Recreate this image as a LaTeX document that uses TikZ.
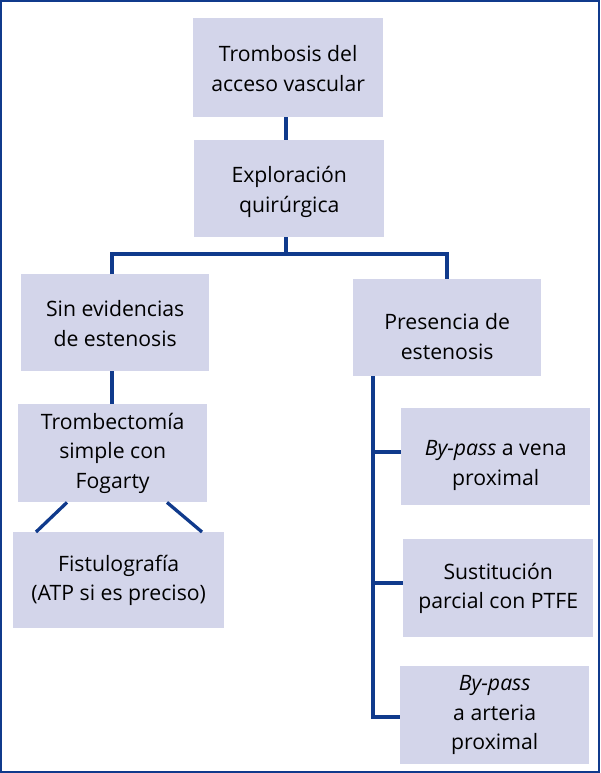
\documentclass[tikz,border=0pt]{standalone}
\usepackage{fontspec}
\setmainfont{Open Sans}
\definecolor{boxfill}{RGB}{211,213,234}
\definecolor{linecol}{RGB}{16,58,140}
\begin{document}
\begin{tikzpicture}[x=1pt,y=-1pt,
  box/.style={fill=boxfill, draw=none, inner sep=0pt, anchor=north west},
  txt/.style={align=center, font=\fontsize{21.2}{29.5}\selectfont, inner sep=0pt},
  conn/.style={draw=linecol, line width=3.3pt}]
\useasboundingbox (0,0) rectangle (600,773);
\draw[linecol, line width=2.4pt] (1.2,1.2) rectangle (598.8,771.8);
% boxes
\node[box, minimum width=190, minimum height=99] (b1) at (193,18) {};
\node[box, minimum width=190, minimum height=97] (b2) at (194,140) {};
\node[box, minimum width=188, minimum height=97] (b3) at (21,274) {};
\node[box, minimum width=188, minimum height=97] (b4) at (353,279) {};
\node[box, minimum width=189, minimum height=98] (b5) at (18,404) {};
\node[box, minimum width=211, minimum height=96] (b6) at (13,532) {};
\node[box, minimum width=189, minimum height=97] (b7) at (401,408) {};
\node[box, minimum width=190, minimum height=98] (b8) at (403,539) {};
\node[box, minimum width=189, minimum height=98] (b9) at (400,666) {};
% texts
\node[txt] (t1) at ([yshift=-1]b1.center) {Trombosis del\\acceso vascular};
\node[txt] (t2) at ([yshift=-3]b2.center) {Exploración\\quirúrgica};
\node[txt] (t3) at ([yshift=-1]b3.center) {Sin evidencias\\de estenosis};
\node[txt] (t4) at ([yshift=-9]b4.center) {Presencia de\\estenosis};
\node[txt] (t5) at (b5.center) {Trombectomía\\simple con\\Fogarty};
\node[txt] (t6) at (b6.center) {Fistulografía\\(ATP si es preciso)};
\node[txt] (t7) at ([yshift=-9]b7.center) {\emph{By-pass} a vena\\proximal};
\node[txt] (t8) at (b8.center) {Sustitución\\parcial con PTFE};
\node[txt] (t9) at (b9.center) {\emph{By-pass}\\a arteria\\proximal};
% connectors
\coordinate (j1) at (286,254);
\coordinate (r0) at (373,452);
\coordinate (r1) at (373,583);
\coordinate (r2) at (373,717);
\draw[conn] (b1.south -| 286,0) -- (b2.north -| 286,0);
\draw[conn] (b2.south -| j1) -- (j1);
\draw[conn] (b3.north -| 112,0) |- (j1) -| (b4.north -| 447,0);
\draw[conn] (b3.south -| 112,0) -- (b5.north -| 112,0);
\draw[conn] (b5.south -| 67,0) -- (b6.north -| 36,0);
\draw[conn] (b5.south -| 167,0) -- (b6.north -| 202,0);
\draw[conn] (b4.south -| r2) -- (r2) -- (b9.west |- r2);
\draw[conn] (r0) -- (b7.west |- r0);
\draw[conn] (r1) -- (b8.west |- r1);
\end{tikzpicture}
\end{document}
